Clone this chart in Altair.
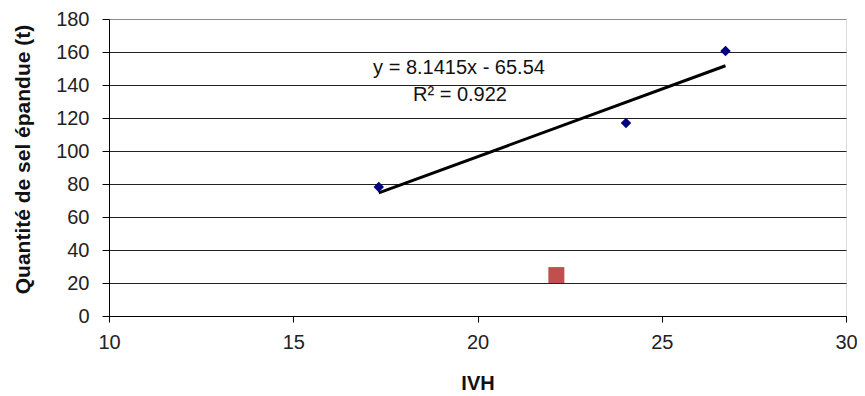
import altair as alt
import pandas as pd

# Data
ivh = [17.32, 24.03, 26.73]
sel = [78.2, 117.0, 160.6]
ivh_outlier = [22.14]
sel_outlier = [24.8]
equation_lines = ["y = 8.1415x - 65.54", "R² = 0.922"]
x_ticks = [10, 15, 20, 25, 30]
y_ticks = [0, 20, 40, 60, 80, 100, 120, 140, 160, 180]

main_df = pd.DataFrame({"IVH": ivh, "sel": sel})
out_df = pd.DataFrame({"IVH": ivh_outlier, "sel": sel_outlier})

FONT = "Liberation Sans"

xscale = alt.Scale(domain=[10, 30], nice=False, zero=False)
yscale = alt.Scale(domain=[0, 180], nice=False)

x_axis = alt.Axis(
    values=x_ticks, title="IVH", grid=False, labelOverlap=False, labelFlush=False,
    labelFont=FONT, labelFontSize=20, labelColor="#222",
    labelPadding=10, tickSize=6, tickColor="#000", domainColor="#000",
    titleFont=FONT, titleFontSize=20, titleFontWeight="bold", titleColor="#111",
    titleY=57,
)
y_axis = alt.Axis(
    values=y_ticks, title="Quantité de sel épandue (t)",
    grid=True, labelOverlap=False, labelFlush=False,
    gridColor={"condition": {"test": "datum.value === 180", "value": "#8c8c8c"}, "value": "#222"},
    gridWidth=1,
    labelFont=FONT, labelFontSize=20, labelColor="#222",
    labelPadding=13, tickSize=7, tickColor="#000", domainColor="#000",
    titleFont=FONT, titleFontSize=21, titleFontWeight="bold", titleColor="#111",
    titleX=-76, titleY=140,
)

X = alt.X("IVH:Q", scale=xscale, axis=x_axis)
Y = alt.Y("sel:Q", scale=yscale, axis=y_axis)

base = alt.Chart(main_df)

points = base.mark_point(shape="diamond", filled=True, size=110, color="#000080", opacity=1).encode(x=X, y=Y)

trend = base.transform_regression("IVH", "sel").mark_line(color="#000", strokeWidth=3).encode(x=X, y=Y)

outlier = alt.Chart(out_df).mark_point(shape="square", filled=True, size=256, color="#C0504D", opacity=1).encode(x=X, y=Y)

eq_df1 = pd.DataFrame({"t": [equation_lines[0]]})
eq_df2 = pd.DataFrame({"t": [equation_lines[1]]})
eq1 = alt.Chart(eq_df1).mark_text(font=FONT, fontSize=20, color="#111", align="center", baseline="middle").encode(
    text="t:N", x=alt.value(350), y=alt.value(49)
)
eq2 = alt.Chart(eq_df2).mark_text(font=FONT, fontSize=20, color="#111", align="center", baseline="middle").encode(
    text="t:N", x=alt.value(351), y=alt.value(76)
)

chart = alt.layer(points, outlier, trend, eq1, eq2).properties(
    width=737, height=297,
    autosize=alt.AutoSizeParams(type="none"),
    padding={"left": 101, "top": 11, "right": 11, "bottom": 80},
).configure_view(
    stroke="#8c8c8c", strokeWidth=1, fill="white"
).configure(background="white")

chart.save("out.html", embed_options={"renderer": "svg", "actions": False})
